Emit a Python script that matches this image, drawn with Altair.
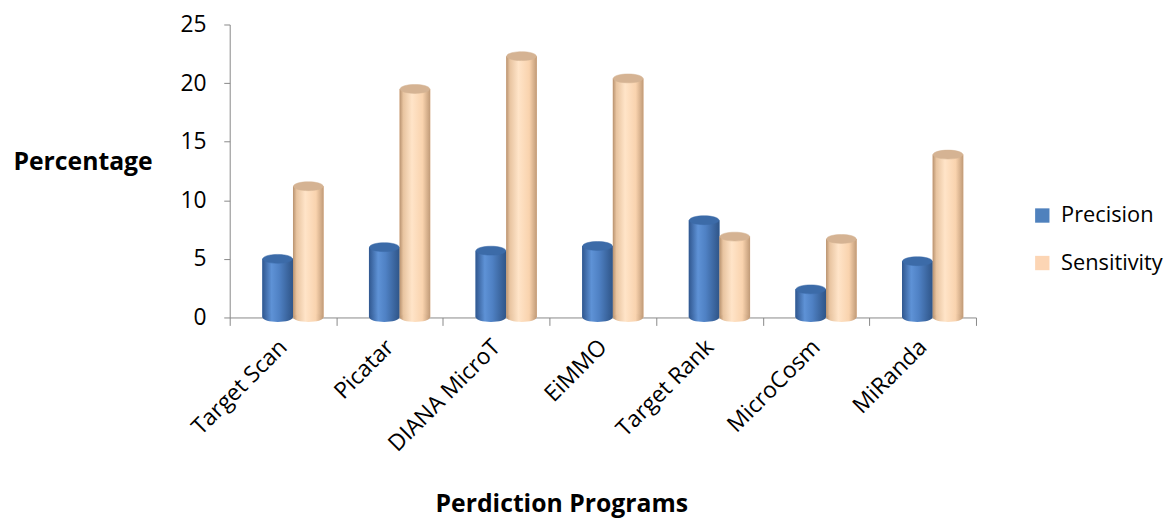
import altair as alt
import pandas as pd

programs = ["Target Scan", "Picatar", "DIANA MicroT", "EiMMO", "Target Rank", "MicroCosm", "MiRanda"]
series = ["Precision", "Sensitivity"]
precision = [5.0, 6.0, 5.7, 6.1, 8.3, 2.4, 4.8]
sensitivity = [11.2, 19.5, 22.3, 20.4, 6.9, 6.7, 13.9]
y_ticks = [0, 5, 10, 15, 20, 25]

rows = []
for p, a, b in zip(programs, precision, sensitivity):
    rows.append({"program": p, "series": "Precision", "value": a})
    rows.append({"program": p, "series": "Sensitivity", "value": b})
df = pd.DataFrame(rows)

FONT = "Open Sans"
blue_flat = "#4F81BD"
peach_flat = "#FCD5B4"

def grad(stops):
    return alt.Gradient(
        gradient="linear", x1=0, x2=1, y1=0, y2=0,
        stops=[alt.GradientStop(color=c, offset=o) for o, c in stops],
    )

blue_grad = grad([(0, "#30578F"), (0.3, "#5E92D6"), (0.55, "#4F81C4"), (1, "#2F5588")])
peach_grad = grad([(0, "#B8926F"), (0.12, "#E8C4A0"), (0.4, "#FFE4C8"), (0.75, "#F9D3AE"), (1, "#C09A77")])
blue_cap = "#3C6BA8"
peach_cap = "#D5B393"

x_enc = alt.X(
    "program:N", sort=programs, title="Perdiction  Programs",
    scale=alt.Scale(paddingInner=0, paddingOuter=0),
    axis=alt.Axis(
        labelAngle=-45, labelAlign="right", labelBaseline="middle",
        labelFontSize=23, labelFont=FONT, labelColor="#000",
        labelPadding=18, tickBand="extent", tickSize=8,
        domainColor="#888", tickColor="#888",
        titleFontSize=25, titleFont=FONT, titleFontWeight="bold",
        titleX=335, titleY=188, titleAnchor="start", titleAlign="center",
        titleBaseline="middle", titleColor="#000",
    ),
)
xo_enc = alt.XOffset(
    "series:N",
    scale=alt.Scale(domain=series, paddingInner=0, paddingOuter=0.74, align=0.72),
)
y_enc = alt.Y(
    "value:Q", title="Percentage",
    scale=alt.Scale(domain=[0, 25], nice=False),
    axis=alt.Axis(
        values=y_ticks, grid=False, labelFontSize=23, labelFont=FONT,
        labelColor="#000", labelPadding=18, tickSize=6,
        domainColor="#888", tickColor="#888",
        titleAngle=0, titleFontSize=25, titleFont=FONT, titleFontWeight="bold",
        titleX=-219, titleY=139, titleAlign="left", titleBaseline="middle",
        titleColor="#000",
    ),
)

base = alt.Chart(df)

flat = base.mark_bar().encode(
    x=x_enc, xOffset=xo_enc, y=y_enc,
    color=alt.Color(
        "series:N",
        scale=alt.Scale(domain=series, range=[blue_flat, peach_flat]),
        legend=alt.Legend(
            title=None, orient="none", legendX=810, legendY=182,
            symbolType="square", symbolSize=210, symbolStrokeWidth=0,
            labelFontSize=22, labelFont=FONT, labelColor="#000",
            rowPadding=26, labelOffset=8,
        ),
    ),
)

ellipse = "M-1,0 A1,0.3 0 1,0 1,0 A1,0.3 0 1,0 -1,0 Z"

layers = [flat]
for s, g, cap in [("Precision", blue_grad, blue_cap), ("Sensitivity", peach_grad, peach_cap)]:
    sub = base.transform_filter(alt.datum.series == s)
    layers.append(sub.mark_bar(color=g).encode(x=x_enc, xOffset=xo_enc, y=y_enc))
    layers.append(
        sub.mark_point(shape=ellipse, filled=True, fill=g, opacity=1, size=900, strokeWidth=0)
        .encode(x=x_enc, xOffset=xo_enc, y=alt.datum(0))
    )
    layers.append(
        sub.mark_point(shape=ellipse, filled=True, fill=cap, opacity=1, size=900,
                       stroke=cap, strokeWidth=0.5)
        .encode(x=x_enc, xOffset=xo_enc, y=y_enc)
    )

chart = (
    alt.layer(*layers)
    .properties(width=754, height=296, padding={"top": 3, "left": 5, "right": 5, "bottom": 5})
    .configure(background="white")
    .configure_view(stroke=None)
)

chart.save("out.html", embed_options={"renderer": "svg", "actions": False})
